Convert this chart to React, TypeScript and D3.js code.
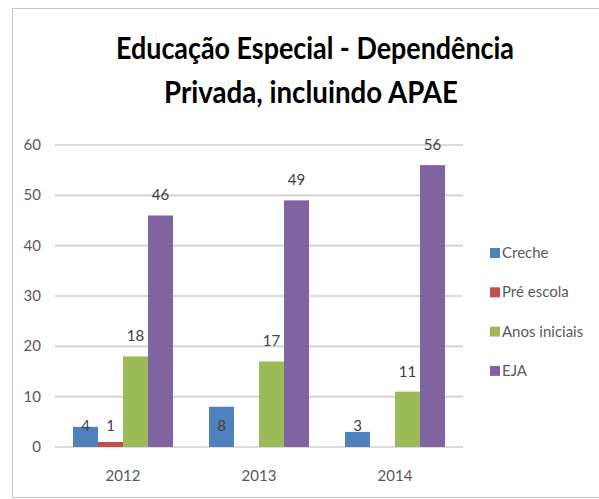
import React from 'react';
import * as d3 from 'd3';

const years = ['2012', '2013', '2014'];
const seriesNames = ['Creche', 'Pré escola', 'Anos iniciais', 'EJA'];
const seriesColors = ['#4F81BD', '#C0504D', '#9BBB59', '#8064A2'];
const creche = [4, 8, 3];
const preEscola: (number | null)[] = [1, null, null];
const anosIniciais = [18, 17, 11];
const eja = [46, 49, 56];
const yTicks = [0, 10, 20, 30, 40, 50, 60];

const seriesValues = [creche, preEscola, anosIniciais, eja];

const W = 599;
const H = 499;
const plot = { left: 55, right: 463, top: 145, bottom: 447 };
const font = 'Lato, "Open Sans", sans-serif';

export default function App() {
  const x0 = d3.scaleBand<string>().domain(years).range([plot.left, plot.right]).padding(0);
  const x1 = d3
    .scaleBand<string>()
    .domain(seriesNames)
    .range([0, x0.bandwidth()])
    .paddingInner(0)
    .paddingOuter(0.72);
  const y = d3.scaleLinear().domain([0, 60]).range([plot.bottom, plot.top]);

  // flatten into bars
  const bars = years.flatMap((yr, i) =>
    seriesNames.map((s, j) => ({ yr, s, j, v: seriesValues[j][i] }))
  ).filter(d => d.v !== null) as { yr: string; s: string; j: number; v: number }[];

  return (
    <svg
      width={W}
      height={H}
      style={{ position: 'absolute', left: 0, top: 0, background: '#fff' }}
    >
      <rect x={0} y={0} width={W} height={H} fill="#fff" />
      {/* chart border */}
      <rect x={12.5} y={8.5} width={W + 20} height={489} fill="none" stroke="#c6c6c6" strokeWidth={1} />

      {/* title */}
      <g fontFamily={font} fontWeight="bold" fontSize={31} fill="#000" textAnchor="middle">
        <text x={315} y={59} textLength={398} lengthAdjust="spacingAndGlyphs">
          Educação Especial - Dependência
        </text>
        <text x={311} y={103} textLength={294} lengthAdjust="spacingAndGlyphs">
          Privada, incluindo APAE
        </text>
      </g>

      {/* gridlines */}
      {yTicks.map(t => (
        <line
          key={t}
          x1={plot.left}
          x2={plot.right}
          y1={y(t)}
          y2={y(t)}
          stroke="#cfcfcf"
          strokeWidth={1.6}
        />
      ))}

      {/* y tick labels */}
      {yTicks.map(t => (
        <text
          key={'l' + t}
          x={41}
          y={y(t) + 5}
          textAnchor="end"
          fontFamily={font}
          fontSize={15}
          fill="#595959"
        >
          {t}
        </text>
      ))}

      {/* bars */}
      {bars.map(d => (
        <rect
          key={d.yr + d.s}
          x={(x0(d.yr) ?? 0) + (x1(d.s) ?? 0)}
          y={y(d.v)}
          width={x1.bandwidth()}
          height={y(0) - y(d.v)}
          fill={seriesColors[d.j]}
        />
      ))}

      {/* data labels */}
      {bars.map(d => (
        <text
          key={'v' + d.yr + d.s}
          x={(x0(d.yr) ?? 0) + (x1(d.s) ?? 0) + x1.bandwidth() / 2}
          y={d.v >= 10 ? y(d.v) - 15 : y(0) - 16}
          textAnchor="middle"
          fontFamily={font}
          fontSize={15}
          fill="#404040"
        >
          {d.v}
        </text>
      ))}

      {/* x labels */}
      {years.map(yr => (
        <text
          key={'x' + yr}
          x={(x0(yr) ?? 0) + x0.bandwidth() / 2}
          y={481}
          textAnchor="middle"
          fontFamily={font}
          fontSize={15}
          fill="#595959"
        >
          {yr}
        </text>
      ))}

      {/* legend */}
      {seriesNames.map((s, j) => (
        <g key={'lg' + s} transform={`translate(490, ${253 + j * 39.3})`}>
          <rect x={0} y={-5} width={10} height={10} fill={seriesColors[j]} />
          <text x={12} y={5} fontFamily={font} fontSize={15} fill="#595959">
            {s}
          </text>
        </g>
      ))}
    </svg>
  );
}
